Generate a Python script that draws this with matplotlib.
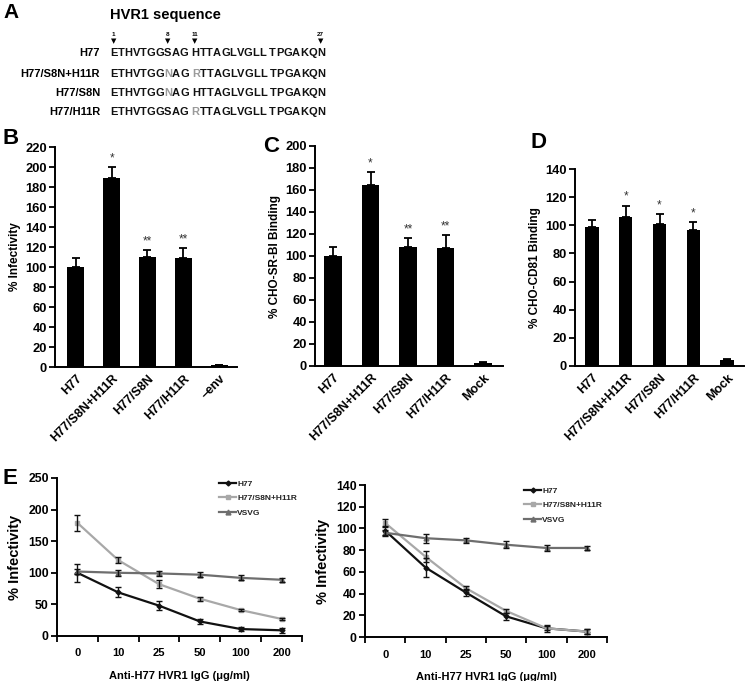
import matplotlib
matplotlib.use('Agg')
import matplotlib.pyplot as plt
import numpy as np
from matplotlib import ft2font
from matplotlib.font_manager import findfont, FontProperties

plt.rcParams['font.family'] = ['Liberation Sans', 'DejaVu Sans']
plt.rcParams['font.weight'] = 'bold'
plt.rcParams['axes.labelweight'] = 'bold'
plt.rcParams['axes.linewidth'] = 1.4

# ---------------- data ----------------
# Panel A
seq_names = ['H77', 'H77/S8N+H11R', 'H77/S8N', 'H77/H11R']
seq_values = ['ETHVTGGSAG HTTAGLVGLL TPGAKQN',
              'ETHVTGGNAG RTTAGLVGLL TPGAKQN',
              'ETHVTGGNAG HTTAGLVGLL TPGAKQN',
              'ETHVTGGSAG RTTAGLVGLL TPGAKQN']
marked_positions = [1, 8, 11, 27]

# Panel B
b_cats = ['H77', 'H77/S8N+H11R', 'H77/S8N', 'H77/H11R', '\u2013env']
b_vals = [100, 189, 110, 109, 2]
b_err = [9, 11, 7, 10, 0]
b_sig = ['', '*', '**', '**', '']

# Panel C
c_cats = ['H77', 'H77/S8N+H11R', 'H77/S8N', 'H77/H11R', 'Mock']
c_vals = [100, 165, 108, 107, 3]
c_err = [8, 11, 8, 12, 1]
c_sig = ['', '*', '**', '**', '']

# Panel D
d_cats = ['H77', 'H77/S8N+H11R', 'H77/S8N', 'H77/H11R', 'Mock']
d_vals = [99, 106, 101, 97, 4]
d_err = [5, 8, 7, 5, 1]
d_sig = ['', '*', '*', '*', '']

# Panel E
e_doses = ['0', '10', '25', '50', '100', '200']
e_series = ['H77', 'H77/S8N+H11R', 'VSVG']
e1_h77 = [100, 69, 48, 23, 11, 9]
e1_h77_err = [14, 8, 7, 4, 3, 4]
e1_mut = [179, 120, 82, 59, 41, 27]
e1_mut_err = [13, 5, 6, 3, 2, 2]
e1_vsvg = [102, 100, 99, 97, 92, 89]
e1_vsvg_err = [4, 5, 4, 4, 4, 3]

e2_h77 = [98, 64, 41, 19, 8, 5]
e2_h77_err = [4, 9, 3, 3, 3, 2]
e2_mut = [105, 74, 45, 24, 8, 5]
e2_mut_err = [4, 5, 2, 2, 2, 2]
e2_vsvg = [96, 91, 89, 85, 82, 82]
e2_vsvg_err = [3, 4, 2, 3, 3, 2]

W, H = 745, 681
fig = plt.figure(figsize=(W / 100, H / 100), dpi=100)


def fx(px):
    return px / W


def fy(py):
    return 1 - py / H


# ---------------- Panel A ----------------
fig.text(fx(3), fy(13), 'A', fontsize=15, fontweight='bold', va='center', ha='left')
fig.text(fx(110), fy(15), 'HVR1 sequence', fontsize=10.5, fontweight='bold',
         va='center', ha='left')

seq_size = 8.0
fp = FontProperties(family='Liberation Sans', weight='bold', size=seq_size)
ftf = ft2font.FT2Font(findfont(fp))
ftf.set_size(seq_size, 100)


def char_positions(s):
    # pen position (left) and centre of each character, in pixels
    xs, cs = [], []
    pen = 0.0
    for ch in s:
        g = ftf.load_char(ord(ch))
        adv = g.linearHoriAdvance / 65536.0
        xs.append(pen)
        cs.append(pen + adv / 2.0)
        pen += adv
    return xs, cs


seq_x0 = 110
row_y = [53, 74, 93, 112]
ref = seq_values[0]
for name, seq, yc in zip(seq_names, seq_values, row_y):
    base_y = fy(yc + 3.3)
    fig.text(fx(100), base_y, name, fontsize=seq_size, fontweight='bold',
             ha='right', va='baseline')
    xs, cs = char_positions(seq)
    for i, ch in enumerate(seq):
        if ch == ' ':
            continue
        col = '#111111' if ch == ref[i] else '#9a9a9a'
        fig.text(fx(seq_x0 + xs[i] + 0.4), base_y, ch, fontsize=seq_size,
                 fontweight='bold', color=col, ha='left', va='baseline')

xs, cs = char_positions(ref)
res_idx = [i for i, ch in enumerate(ref) if ch != ' ']
for p in marked_positions:
    xc = seq_x0 + cs[res_idx[p - 1]]
    fig.text(fx(xc), fy(34), str(p), fontsize=4.5, ha='center', va='center')
    fig.text(fx(xc), fy(41), '\u25BC', fontsize=5, ha='center', va='center',
             family='DejaVu Sans')


# ---------------- Bar panels ----------------
def bar_panel(rect, cats, vals, errs, sigs, ymax, ylabel, xlim, width, letter, letter_xy):
    ax = fig.add_axes(rect)
    x = np.arange(len(cats))
    ax.bar(x, vals, width=width, color='black', zorder=2)
    ax.errorbar(x, vals, yerr=[np.zeros(len(vals)), errs], fmt='none',
                ecolor='black', elinewidth=1.3, capsize=3, capthick=1.3, zorder=3)
    for xi, v, e, s in zip(x, vals, errs, sigs):
        if s:
            ax.annotate(s, (xi, v + e), xytext=(0, 2), textcoords='offset points',
                        ha='center', va='bottom', fontsize=8.5, fontweight='normal',
                        color='#333333')
    ax.set_xlim(*xlim)
    ax.set_ylim(0, ymax)
    ax.set_yticks(np.arange(0, ymax + 1, 20))
    ax.spines['top'].set_visible(False)
    ax.spines['right'].set_visible(False)
    ax.set_xticks(x)
    ax.set_xticklabels(cats, rotation=45, ha='right', rotation_mode='anchor',
                       fontsize=9, fontweight='bold')
    ax.tick_params(axis='x', length=0, pad=4)
    ax.tick_params(axis='y', direction='out', length=4, width=1.3, labelsize=9.3, pad=2)
    for lab in ax.get_yticklabels():
        lab.set_fontweight('bold')
    ax.set_ylabel(ylabel, fontsize=8.5, fontweight='bold', labelpad=3)
    fig.text(fx(letter_xy[0]), fy(letter_xy[1]), letter, fontsize=16,
             fontweight='bold', ha='left', va='center')
    return ax


bar_panel([fx(55), fy(367), fx(237) - fx(55), fy(147) - fy(367)],
          b_cats, b_vals, b_err, b_sig, 220, '% Infectivity', (-0.58, 4.5), 0.47,
          'B', (2, 138))
bar_panel([fx(315), fy(366), fx(503) - fx(315), fy(146) - fy(366)],
          c_cats, c_vals, c_err, c_sig, 200, '% CHO-SR-BI Binding', (-0.48, 4.53), 0.47,
          'C', (263, 146))
bar_panel([fx(575), fy(366), fx(744) - fx(575), fy(169) - fy(366)],
          d_cats, d_vals, d_err, d_sig, 140, '% CHO-CD81 Binding', (-0.5, 4.5), 0.4,
          'D', (530, 143))


# ---------------- Panel E ----------------
def curve_panel(rect, ymax, ystep, h77, h77e, mut, mute, vs, vse):
    ax = fig.add_axes(rect)
    x = np.arange(len(e_doses))
    styles = [(h77, h77e, '#111111', 'D', 2.5, e_series[0]),
              (mut, mute, '#a8a8a8', 's', 3.2, e_series[1]),
              (vs, vse, '#6e6e6e', '^', 3.5, e_series[2])]
    handles = []
    for vals, errs, col, mk, ms, lab in styles:
        h, = ax.plot(x, vals, color=col, lw=1.6, marker=mk, ms=ms, mec=col, mfc=col,
                     label=lab, zorder=3)
        ax.errorbar(x, vals, yerr=errs, fmt='none', ecolor='#111111', elinewidth=1.0,
                    capsize=2, capthick=1.0, zorder=4)
        handles.append(h)
    ax.set_xlim(-0.5, 5.5)
    ax.set_ylim(0, ymax)
    ax.set_yticks(np.arange(0, ymax + 1, ystep))
    ax.set_xticks(x)
    ax.set_xticklabels(e_doses, fontsize=8, fontweight='bold')
    ax.set_xticks(np.arange(-0.5, 6.0, 1.0), minor=True)
    ax.tick_params(axis='x', which='major', length=0, pad=9)
    ax.tick_params(axis='x', which='minor', length=4, width=1.3, direction='out')
    ax.tick_params(axis='y', direction='out', length=4, width=1.3, labelsize=8.8, pad=2)
    for lab in ax.get_yticklabels():
        lab.set_fontweight('bold')
    ax.spines['top'].set_visible(False)
    ax.spines['right'].set_visible(False)
    ax.set_ylabel('% Infectivity', fontsize=10.5, fontweight='bold', labelpad=4)
    ax.set_xlabel('Anti-H77 HVR1 IgG (\u03bcg/ml)', fontsize=8, fontweight='bold', labelpad=9)
    leg = ax.legend(handles=handles, loc='upper right', bbox_to_anchor=(1.0, 1.02),
                    frameon=False, prop={'family': 'Liberation Sans',
                                         'size': 6.0, 'weight': 'bold'},
                    handlelength=2.0, handletextpad=0.15,
                    labelspacing=0.8, borderaxespad=0.2)
    for t in leg.get_texts():
        t.set_color('#222222')
    return ax


curve_panel([fx(57), fy(636), fx(302) - fx(57), fy(478) - fy(636)], 250, 50,
            e1_h77, e1_h77_err, e1_mut, e1_mut_err, e1_vsvg, e1_vsvg_err)
curve_panel([fx(365), fy(637), fx(607) - fx(365), fy(485) - fy(637)], 140, 20,
            e2_h77, e2_h77_err, e2_mut, e2_mut_err, e2_vsvg, e2_vsvg_err)
fig.text(fx(2), fy(479), 'E', fontsize=16, fontweight='bold', ha='left', va='center')

fig.savefig('out.png', dpi=100)
